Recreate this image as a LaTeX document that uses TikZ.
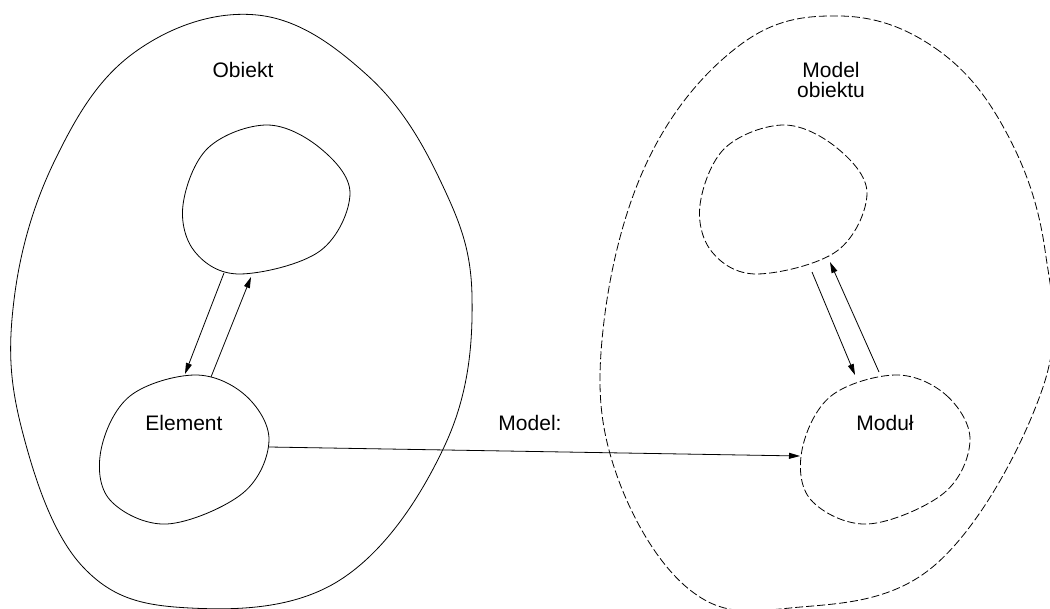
\documentclass[tikz,border=0pt]{standalone}
\usepackage{fontspec}
\setmainfont{Liberation Sans}
\usetikzlibrary{arrows.meta}
\begin{document}
\begin{tikzpicture}[x=1pt,y=-1pt,
  outline/.style={line width=0.8pt, black},
  dashline/.style={outline, dash pattern=on 8pt off 3pt},
  link/.style={line width=0.8pt, -{Triangle[length=11pt,width=6pt]}},
  label/.style={font=\fontsize{21}{21}\selectfont, align=center, inner sep=0pt}]
\useasboundingbox (0,0) rectangle (1050,609);

% outer region: object
\draw[outline] plot[smooth cycle, tension=0.65] coordinates {
  (257,15) (367,75) (440,180) (472,296) (445,445) (340,580) (190,608)
  (83,567) (22,430) (14,300) (55,160) (135,52)};

% outer region: model of the object
\draw[dashline] plot[smooth cycle, tension=0.65] coordinates {
  (840,16) (935,48) (1005,130) (1045,250) (1042,390) (935,565) (790,608)
  (690,590) (615,470) (603,330) (648,160) (740,45)};

% inner upper blobs
\foreach \dx/\sty in {0/outline, 517/dashline}{
  \draw[\sty, xshift=\dx] plot[smooth cycle, tension=0.6] coordinates {
    (267,125) (320,148) (350,193) (320,251) (240,274) (195,252) (183,205) (208,148)};
}

% inner lower blobs: element and module
\foreach \dx/\sty in {0/outline, 701/dashline}{
  \draw[\sty, xshift=\dx] plot[smooth cycle, tension=0.6] coordinates {
    (195,375) (245,395) (269,440) (243,493) (167,524) (110,500) (101,450) (130,396)};
}

% texts
\node[label] (obiekt) at (243,70) {Obiekt};
\node[label] (modelobiektu) at (831,80) {Model\\[-1pt]obiektu};
\node[label] (element) at (184,423) {Element};
\node[label] (modul) at (885,423) {Moduł};
\node[label] (model) at (530,423) {Model:};

% connector end points on the blob outlines
\coordinate (ua) at (224,273);
\coordinate (ub) at (251,277);
\coordinate (ea) at (185,374);
\coordinate (eb) at (211,377);
\coordinate (va) at (812,272);
\coordinate (vb) at (830,262);
\coordinate (ma) at (855,375);
\coordinate (mb) at (879,372);
\coordinate (eout) at (269,447);
\coordinate (min) at (800,456);

% connectors
\draw[link] (ua) -- (ea);
\draw[link] (eb) -- (ub);
\draw[link] (va) -- (ma);
\draw[link] (mb) -- (vb);
\draw[link] (eout) -- (min);
\end{tikzpicture}
\end{document}
